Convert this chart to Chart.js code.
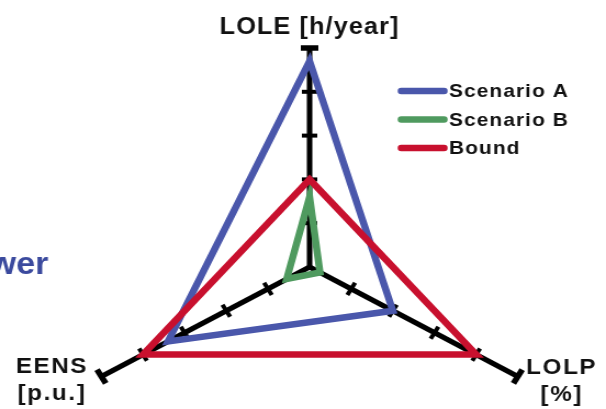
<!DOCTYPE html>
<html>
<head>
<meta charset="utf-8">
<script src="https://cdn.jsdelivr.net/npm/chart.js@4"></script>
<style>
  html, body { margin: 0; background: #fff; }
  #frame { width: 606px; height: 409px; overflow: hidden; }
  /* the source figure is stretched a little horizontally */
  #stretch { width: 552px; height: 500px; transform: scaleX(1.0978); transform-origin: 0 0; }
</style>
</head>
<body>
<div id="frame"><div id="stretch"><canvas id="radar"></canvas></div></div>
<script>
const indicators = ['LOLE [h/year]', 'LOLP [%]', 'EENS [p.u.]'];
const axisLabels = [['LOLE [h/year]'], ['LOLP', '[%]'], ['EENS', '[p.u.]']];
const scenarioA = [4.7, 2.0, 3.4];
const scenarioB = [1.6, 0.25, 0.55];
const bound = [2, 4, 4];
const tickValues = [1, 2, 3, 4, 5];
const scaleMax = 5;

const FONT = '"Liberation Sans", Arial, sans-serif';

// short black marks across each axis, bigger cap at the end
const axisMarks = {
  id: 'axisMarks',
  beforeDatasetsDraw(chart) {
    const r = chart.scales.r;
    const ctx = chart.ctx;
    ctx.save();
    ctx.strokeStyle = '#000';
    indicators.forEach((_, i) => {
      const a = r.getIndexAngle(i) - Math.PI / 2;
      const nx = -Math.sin(a), ny = Math.cos(a);
      tickValues.forEach(v => {
        const p = r.getPointPositionForValue(i, v);
        const half = v === scaleMax ? 8 : 7;
        ctx.lineWidth = v === scaleMax ? 5.5 : 4;
        ctx.beginPath();
        ctx.moveTo(p.x - nx * half, p.y - ny * half);
        ctx.lineTo(p.x + nx * half, p.y + ny * half);
        ctx.stroke();
      });
    });
    ctx.restore();
  }
};

const texts = {
  id: 'texts',
  afterDraw(chart) {
    const r = chart.scales.r;
    const ctx = chart.ctx;
    ctx.save();
    ctx.fillStyle = '#111';
    ctx.textAlign = 'center';
    ctx.textBaseline = 'alphabetic';

    // axis titles
    const offs = [[0, -14], [40, -3], [-45, -4]];
    axisLabels.forEach((lines, i) => {
      const p = r.getPointPositionForValue(i, scaleMax);
      ctx.font = (i === 0 ? 'bold 23px ' : 'bold 22px ') + FONT;
      ctx.letterSpacing = i === 0 ? '1px' : '1.5px';
      lines.forEach((t, k) => {
        ctx.fillText(t, p.x + offs[i][0], p.y + offs[i][1] + k * 27);
      });
    });

    // legend
    ctx.font = 'bold 19px ' + FONT;
    ctx.letterSpacing = '1px';
    ctx.textAlign = 'left';
    ctx.textBaseline = 'middle';
    ctx.lineCap = 'round';
    chart.data.datasets.forEach((ds, k) => {
      const y = 91 + k * 28.5;
      ctx.strokeStyle = ds.borderColor;
      ctx.lineWidth = 6.5;
      ctx.beginPath();
      ctx.moveTo(365.5, y);
      ctx.lineTo(404.5, y);
      ctx.stroke();
      ctx.fillStyle = '#111';
      ctx.fillText(ds.label, 409, y + 1);
    });

    // leftover of a title cut off at the left edge
    ctx.font = 'bold 31px ' + FONT;
    ctx.letterSpacing = '0px';
    ctx.textAlign = 'right';
    ctx.textBaseline = 'alphabetic';
    ctx.fillStyle = '#3b4a9e';
    ctx.fillText('wer', 44, 274);
    ctx.restore();
  }
};

new Chart(document.getElementById('radar'), {
  type: 'radar',
  data: {
    labels: indicators,
    datasets: [
      { label: 'Scenario A', data: scenarioA, borderColor: '#4a57ab', order: 1 },
      { label: 'Scenario B', data: scenarioB, borderColor: '#4f9a5f', order: 1 },
      { label: 'Bound', data: bound, borderColor: '#c8102e', order: 0 }
    ]
  },
  options: {
    responsive: true,
    maintainAspectRatio: false,
    animation: false,
    events: [],
    layout: { padding: { top: 48, bottom: 13, left: 63, right: 50 } },
    elements: {
      line: { borderWidth: 6.5, fill: false, tension: 0, borderJoinStyle: 'miter' },
      point: { radius: 0 }
    },
    plugins: { legend: { display: false }, tooltip: { enabled: false } },
    scales: {
      r: {
        min: 0,
        max: scaleMax,
        ticks: { display: false, stepSize: 1 },
        grid: { display: false },
        angleLines: { color: '#000', lineWidth: 5 },
        pointLabels: { display: false }
      }
    }
  },
  plugins: [axisMarks, texts]
});
</script>
</body>
</html>
